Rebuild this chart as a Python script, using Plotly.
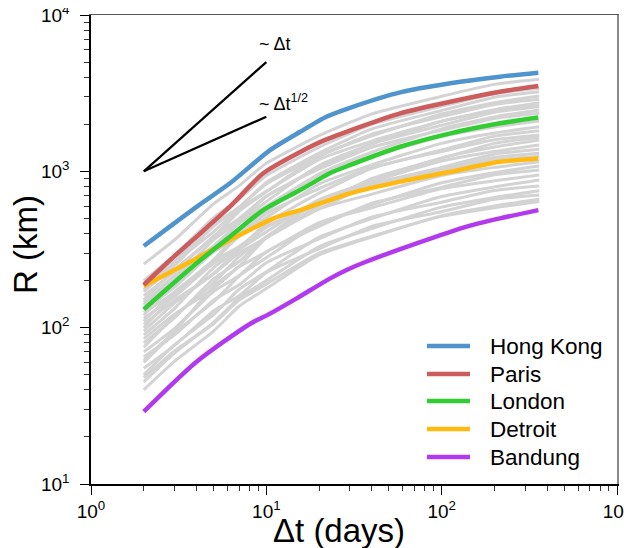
import plotly.graph_objects as go

# ---------------- data ----------------
gray_x = [2, 3, 5, 7, 10, 20, 40, 100, 200, 360]
gray_lines = [
    [255, 365, 620, 810, 1125, 1690, 2330, 3020, 3600, 3880],
    [170, 250, 445, 590, 850, 1310, 1870, 2450, 2980, 3230],
    [150, 235, 380, 555, 740, 1250, 1690, 2330, 2750, 3030],
    [185, 265, 455, 590, 830, 1250, 1730, 2240, 2680, 2890],
    [120, 192, 318, 470, 640, 1090, 1500, 2090, 2480, 2750],
    [140, 205, 365, 480, 690, 1060, 1500, 1970, 2390, 2590],
    [100, 162, 272, 405, 555, 960, 1325, 1870, 2230, 2470],
    [160, 228, 385, 500, 695, 1035, 1425, 1830, 2180, 2350],
    [110, 170, 268, 385, 505, 830, 1100, 1510, 1760, 1930],
    [90, 133, 242, 320, 465, 725, 1045, 1370, 1680, 1820],
    [130, 182, 305, 385, 535, 775, 1060, 1340, 1590, 1706],
    [75, 118, 193, 285, 380, 650, 870, 1220, 1430, 1585],
    [95, 144, 222, 315, 410, 660, 860, 1165, 1340, 1472],
    [80, 116, 205, 265, 382, 575, 820, 1060, 1285, 1383],
    [115, 158, 258, 320, 438, 615, 835, 1035, 1225, 1303],
    [60, 93, 146, 214, 280, 465, 610, 845, 980, 1081],
    [70, 99, 170, 216, 305, 445, 625, 790, 950, 1019],
    [85, 122, 178, 245, 305, 470, 585, 775, 870, 946],
    [50, 78, 121, 176, 228, 380, 498, 690, 795, 879],
    [65, 90, 150, 188, 260, 370, 510, 635, 755, 805],
    [45, 69, 108, 155, 200, 330, 430, 590, 680, 751],
    [55, 77, 128, 160, 225, 320, 445, 552, 662, 705],
    [40, 61, 95, 137, 178, 292, 380, 520, 600, 662],
    [200, 290, 505, 665, 940, 1430, 2000, 2610, 3140, 3400],
    [145, 216, 333, 465, 600, 955, 1245, 1670, 1920, 2100],
    [62, 95, 183, 248, 375, 605, 900, 1210, 1510, 1650],
    [105, 150, 220, 300, 375, 575, 715, 940, 1060, 1150],
    [48, 71, 106, 150, 190, 300, 385, 515, 585, 640],
    [175, 262, 410, 575, 745, 1190, 1560, 2095, 2425, 2650],
    [125, 168, 268, 330, 445, 615, 820, 1005, 1180, 1250],
]

city_names = ["Hong Kong", "Paris", "London", "Detroit", "Bandung"]
city_colors = ["#4F94CD", "#CD5C5C", "#32CD32", "#FFB90F", "#B23AEE"]
hk_x = [2, 4, 6.2, 10.5, 15.6, 22, 30, 58, 112, 215, 356]
hk_y = [333, 593, 838, 1367, 1790, 2234, 2550, 3200, 3656, 4029, 4277]
paris_x = [2, 2.8, 4, 6.2, 9.6, 15.6, 22, 58, 112, 215, 356]
paris_y = [188, 268, 382, 594, 971, 1330, 1600, 2349, 2786, 3228, 3513]
london_x = [2, 4, 6.2, 9.6, 15.6, 23, 30, 58, 112, 215, 356]
london_y = [131, 258, 382, 565, 759, 971, 1096, 1436, 1750, 2030, 2213]
detroit_x = [2, 4, 6.2, 11, 15.6, 23, 30, 58, 112, 215, 356]
detroit_y = [185, 277, 363, 500, 565, 655, 723, 859, 993, 1151, 1210]
bandung_x = [2, 4, 8.1, 10.5, 14.9, 23, 28.7, 37, 72, 139, 215, 356]
bandung_y = [29, 60.5, 106, 123, 154, 206, 234, 264, 346, 443, 500, 565]
city_x = [hk_x, paris_x, london_x, detroit_x, bandung_x]
city_y = [hk_y, paris_y, london_y, detroit_y, bandung_y]

# guide lines ~Δt and ~Δt^1/2
guide_x = [2, 10]
guide_lin_y = [1000, 5000]
guide_sqrt_y = [1000, 2236]

x_tickvals = [1, 10, 100, 1000]
x_ticktext = ["10<sup>0</sup>", "10<sup>1</sup>", "10<sup>2</sup>", "10<sup>3</sup>"]
y_tickvals = [10, 100, 1000, 10000]
y_ticktext = ["10<sup>1</sup>", "10<sup>2</sup>", "10<sup>3</sup>", "10<sup>4</sup>"]
x_minor = [m * d for d in (1, 10, 100) for m in range(2, 10)]
y_minor = [m * d for d in (10, 100, 1000) for m in range(2, 10)]

FONT = "Liberation Sans, Arial, Helvetica, sans-serif"

fig = go.Figure()
for ys in gray_lines:
    fig.add_trace(go.Scatter(x=gray_x, y=ys, mode="lines",
                             line=dict(color="#D3D3D3", width=3, shape="spline", smoothing=0.5),
                             showlegend=False, hoverinfo="skip"))

for gy in (guide_lin_y, guide_sqrt_y):
    fig.add_trace(go.Scatter(x=guide_x, y=gy, mode="lines",
                             line=dict(color="black", width=2.2),
                             showlegend=False, hoverinfo="skip"))

for name, col, xs, ys in reversed(list(zip(city_names, city_colors, city_x, city_y))):
    fig.add_trace(go.Scatter(x=xs, y=ys, mode="lines", name=name,
                             line=dict(color=col, width=4.5, shape="spline", smoothing=0.7),
                             showlegend=False))

# empty trace on the overlay axes that draw the top / right frame
fig.add_trace(go.Scatter(x=[], y=[], xaxis="x2", yaxis="y2", showlegend=False,
                         hoverinfo="skip"))

# page body has an 8px margin: figure is 624x540, offset by 8px
OFF = 8
FW, FH = 632 - OFF, 548 - OFF
L, R_, T, B = 91, 617, 15, 484          # plot area in window pixels
W, H = R_ - L, B - T
def px(xp):
    return (xp - L) / W
def py(yp):
    return (B - yp) / H

leg_y = [346, 374, 401, 429, 457]
for name, col, yy in zip(city_names, city_colors, leg_y):
    fig.add_shape(type="line", xref="paper", yref="paper",
                  x0=px(427), x1=px(470), y0=py(yy), y1=py(yy),
                  line=dict(color=col, width=4.5))
    fig.add_annotation(xref="paper", yref="paper", x=px(488), y=py(yy),
                       text=name, showarrow=False, xanchor="left", yanchor="middle",
                       font=dict(size=22.5, color="black", family=FONT))

fig.add_annotation(xref="paper", yref="paper", x=px(257), y=py(44), text="~ Δt",
                   showarrow=False, xanchor="left", yanchor="middle",
                   font=dict(size=18, color="black", family=FONT))
fig.add_annotation(xref="paper", yref="paper", x=px(257), y=py(102), text="~ Δt<sup>1/2</sup>",
                   showarrow=False, xanchor="left", yanchor="middle",
                   font=dict(size=18, color="black", family=FONT))

# axis titles
fig.add_annotation(xref="paper", yref="paper", x=px(339), y=py(530), text="Δt (days)",
                   showarrow=False, xanchor="center", yanchor="middle",
                   font=dict(size=33, color="black", family=FONT))
fig.add_annotation(xref="paper", yref="paper", x=px(25), y=py(245), text="R (km)",
                   showarrow=False, xanchor="center", yanchor="middle", textangle=-90,
                   font=dict(size=33, color="black", family=FONT))

axis_common = dict(type="log", showgrid=False, zeroline=False, showline=True,
                   linecolor="black", linewidth=1.5, ticks="outside", ticklen=9,
                   tickwidth=1.2, tickcolor="black", automargin=False,
                   ticklabeloverflow="allow",
                   tickfont=dict(size=19, family=FONT, color="black"))

fig.update_layout(
    xaxis=dict(range=[0, 3], tickvals=x_tickvals, ticktext=x_ticktext,
               minor=dict(ticks="outside", ticklen=5, tickwidth=1, tickcolor="#333333",
                          tickmode="array", tickvals=x_minor, showgrid=False),
               **axis_common),
    yaxis=dict(range=[1, 4], tickvals=y_tickvals, ticktext=y_ticktext,
               minor=dict(ticks="outside", ticklen=5, tickwidth=1, tickcolor="#333333",
                          tickmode="array", tickvals=y_minor, showgrid=False),
               ticklabelstandoff=7,
               **axis_common),
    xaxis2=dict(type="log", range=[0, 3], overlaying="x", side="top", anchor="y2",
                showline=True, linecolor="#555555", linewidth=1, ticks="",
                showticklabels=False, showgrid=False, zeroline=False, automargin=False),
    yaxis2=dict(type="log", range=[1, 4], overlaying="y", side="right", anchor="x2",
                showline=True, linecolor="#8A8A8A", linewidth=2, ticks="",
                showticklabels=False, showgrid=False, zeroline=False, automargin=False),
    width=FW, height=FH,
    margin=dict(l=L - OFF, r=632 - R_, t=T - OFF, b=548 - B),
    paper_bgcolor="white", plot_bgcolor="white", showlegend=False,
    font=dict(family=FONT))

fig.write_html("out.html")
